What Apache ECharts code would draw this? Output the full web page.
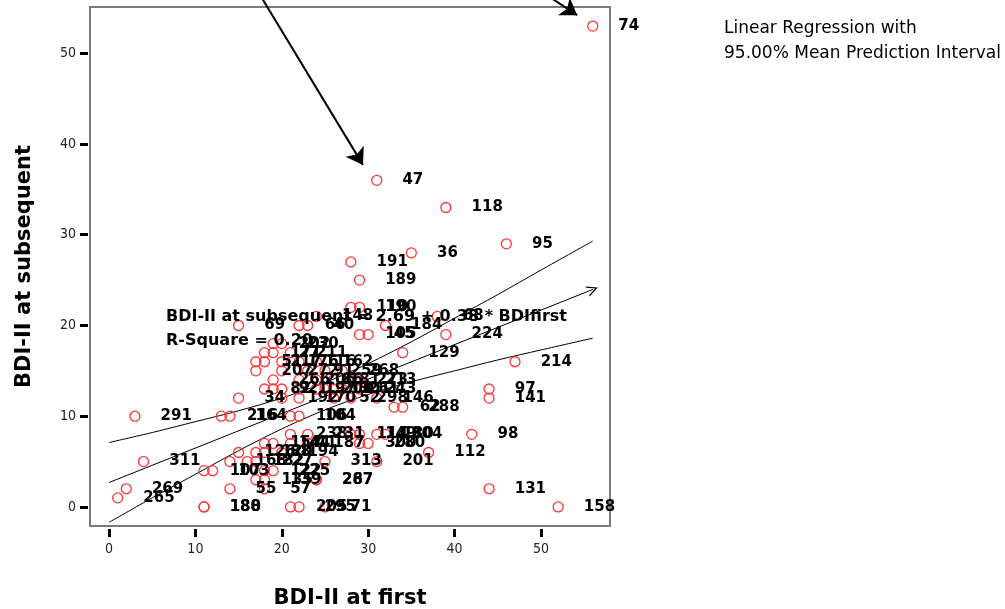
<!DOCTYPE html>
<html>
<head>
<meta charset="utf-8">
<script src="https://cdn.jsdelivr.net/npm/echarts@6/dist/echarts.min.js"></script>
<style>
  html, body { margin: 0; padding: 0; background: #fff; }
  #chart { width: 1005px; height: 609px; }
</style>
</head>
<body>
<div id="chart"></div>
<script>
// BDI-II scores: first assessment, subsequent assessment, case id
const firstScores = [
  56, 31, 39, 46, 35, 28, 29, 28, 29, 24, 38, 32, 15, 22, 23, 29, 30, 39, 34, 47,
  44, 44, 42, 37, 44, 52, 19, 20, 18, 19, 21, 17, 18, 20, 22, 24, 17, 20, 23, 25,
  27, 19, 22, 24, 26, 28, 29, 18, 19, 20, 22, 24, 25, 26, 27, 29, 15, 20, 22, 26,
  28, 31, 33, 34, 3, 13, 14, 21, 22, 21, 23, 28, 29, 31, 32, 18, 19, 21, 23, 29,
  30, 15, 17, 18, 20, 14, 16, 17, 4, 25, 31, 11, 12, 18, 19, 17, 18, 24, 24, 2,
  14, 18, 1, 11, 11, 21, 22, 25
];
const subsequentScores = [
  53, 36, 33, 29, 28, 27, 25, 22, 22, 21, 21, 20, 20, 20, 20, 19, 19, 19, 17, 16,
  13, 12, 8, 6, 2, 0, 18, 18, 17, 17, 17, 16, 16, 16, 16, 16, 15, 15, 15, 15,
  15, 14, 14, 14, 14, 14, 14, 13, 13, 13, 13, 13, 13, 13, 13, 13, 12, 12, 12, 12,
  12, 12, 11, 11, 10, 10, 10, 10, 10, 8, 8, 8, 8, 8, 8, 7, 7, 7, 7, 7,
  7, 6, 6, 6, 6, 5, 5, 5, 5, 5, 5, 4, 4, 4, 4, 3, 3, 3, 3, 2,
  2, 2, 1, 0, 0, 0, 0, 0
];
const caseIds = [
  '74', '47', '118', '95', '36', '191', '189', '110', '190', '148', '68', '184', '69', '66', '40', '105', '45', '224', '129', '214',
  '97', '141', '98', '112', '131', '158', '202', '230', '171', '27', '211', '51', '217', '176', '116', '162', '207', '272', '91', '259',
  '268', '266', '206', '86', '81', '273', '213', '82', '9', '21', '197', '208', '13', '301', '261', '243', '34', '192', '170', '52',
  '298', '146', '62', '288', '291', '216', '164', '106', '104', '238', '231', '114', '149', '180', '304', '154', '144', '41', '187', '300',
  '280', '126', '120', '88', '194', '168', '182', '227', '311', '313', '201', '107', '103', '122', '225', '135', '139', '267', '287', '269',
  '55', '57', '265', '188', '180', '205', '295', '71'
];

// Fitted line: BDI-II at subsequent = 2.69 + 0.38 * BDIfirst
const fitIntercept = 2.69;
const fitSlope = 0.38;
const fitRange = [0, 56];

// 95% mean prediction interval bounds
const bandX     = [0, 5, 10, 15, 20, 25, 30, 35, 40, 45, 50, 56];
const bandUpper = [7.1, 8.2, 9.4, 10.6, 12.0, 13.7, 15.8, 18.2, 20.8, 23.4, 26.1, 29.3];
const bandLower = [-1.7, 1.0, 3.6, 6.2, 8.6, 10.7, 12.4, 13.8, 15.0, 16.2, 17.3, 18.6];

// Axis ticks
const xTicks = [0, 10, 20, 30, 40, 50];
const yTicks = [0, 10, 20, 30, 40, 50];

// Call-out arrows (data coordinates: tail, head)
const arrowTails = [[17.5, 56.4], [50.7, 56.4]];
const arrowHeads = [[29.4, 37.7], [54.2, 54.2]];

const chevron = 'path://M5,0 L10,10 L8.6,10 L5,2.6 L1.4,10 L0,10 Z';

const chart = echarts.init(document.getElementById('chart'), null, { renderer: 'canvas' });

const points = firstScores.map((x, i) => [x, subsequentScores[i], caseIds[i]]);
const fitLine = fitRange.map(x => [x, fitIntercept + fitSlope * x]);

const tickFont = {
  fontFamily: '"Liberation Sans Narrow", "DejaVu Sans Condensed", "Liberation Sans", sans-serif',
  fontSize: 14,
  color: '#222'
};
const titleFont = {
  fontFamily: '"DejaVu Sans", sans-serif',
  fontWeight: 'bold',
  fontSize: 21,
  color: '#000'
};

chart.setOption({
  animation: false,
  backgroundColor: '#fff',
  grid: {
    left: 90, right: 395, top: 7, bottom: 83,
    outerBoundsMode: 'none',
    show: true, borderColor: '#7a7a7a', borderWidth: 2,
    backgroundColor: 'transparent'
  },
  xAxis: {
    type: 'value', min: -2.2, max: 58, offset: 3,
    axisLine: { show: false, onZero: false },
    splitLine: { show: false },
    axisTick: { show: true, customValues: xTicks, length: 8, lineStyle: { color: '#000', width: 3 } },
    axisLabel: Object.assign({ customValues: xTicks, margin: 13 }, tickFont),
    name: 'BDI-II at first', nameLocation: 'middle', nameGap: 59,
    nameTextStyle: titleFont
  },
  yAxis: {
    type: 'value', min: -2.1, max: 55.1, offset: 2,
    axisLine: { show: false, onZero: false },
    splitLine: { show: false },
    axisTick: { show: true, customValues: yTicks, length: 8, lineStyle: { color: '#000', width: 3 } },
    axisLabel: Object.assign({ customValues: yTicks, margin: 12 }, tickFont),
    name: 'BDI-II at subsequent', nameLocation: 'middle', nameGap: 53,
    nameTextStyle: titleFont
  },
  series: [
    {
      type: 'line', silent: true, showSymbol: false, smooth: 0.3,
      data: bandX.map((x, i) => [x, bandUpper[i]]),
      lineStyle: { color: '#000', width: 1 }
    },
    {
      type: 'line', silent: true, showSymbol: false, smooth: 0.3,
      data: bandX.map((x, i) => [x, bandLower[i]]),
      lineStyle: { color: '#000', width: 1 }
    },
    {
      type: 'lines', coordinateSystem: 'cartesian2d', silent: true,
      symbol: ['none', chevron], symbolSize: [9, 11],
      lineStyle: { color: '#000', width: 1, opacity: 1 },
      data: [{ coords: fitLine }]
    },
    {
      type: 'scatter', silent: true, clip: false,
      symbol: 'circle', symbolSize: 10,
      itemStyle: { color: 'rgba(255,255,255,0)', borderColor: '#ff3535', borderWidth: 1.3, opacity: 1 },
      label: {
        show: true, position: 'right', distance: 20, opacity: 1,
        formatter: p => p.data[2],
        fontFamily: '"DejaVu Sans", sans-serif', fontWeight: 'bold', fontSize: 15, color: '#000'
      },
      labelLayout: { hideOverlap: false },
      data: points,
      z: 3
    },
    {
      type: 'lines', coordinateSystem: 'cartesian2d', silent: true, clip: false,
      symbol: ['none', 'arrow'], symbolSize: [12, 16],
      lineStyle: { color: '#000', width: 2, opacity: 1 },
      data: arrowTails.map((t, i) => ({ coords: [t, arrowHeads[i]] })),
      z: 4
    }
  ],
  graphic: [
    {
      type: 'text', left: 166, top: 309, z: 10,
      style: { text: 'BDI-II at subsequent = 2.69 + 0.38 * BDIfirst', font: 'bold 16px "DejaVu Sans", sans-serif', fill: '#000' }
    },
    {
      type: 'text', left: 166, top: 333, z: 10,
      style: { text: 'R-Square = 0.20', font: 'bold 16px "DejaVu Sans", sans-serif', fill: '#000' }
    },
    {
      type: 'text', left: 724, top: 20,
      style: { text: 'Linear Regression with', font: '17px "DejaVu Sans", sans-serif', fill: '#000' }
    },
    {
      type: 'text', left: 724, top: 45,
      style: { text: '95.00% Mean Prediction Interval', font: '17px "DejaVu Sans", sans-serif', fill: '#000' }
    }
  ]
});
</script>
</body>
</html>
